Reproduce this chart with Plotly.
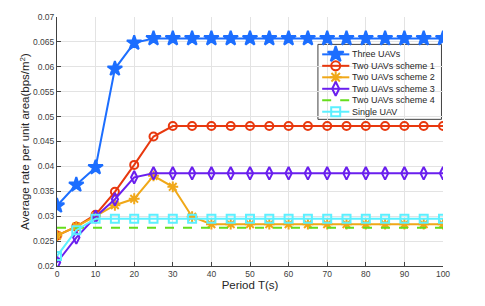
import plotly.graph_objects as go

periods = [0, 5, 10, 15, 20, 25, 30, 35, 40, 45, 50, 55, 60, 65, 70, 75, 80, 85, 90, 95, 100]
three_uavs = [0.0321, 0.0363, 0.0398, 0.0596, 0.0648, 0.0657] + [0.0657] * 15
scheme1 = [0.0261, 0.0279, 0.0303, 0.0349, 0.0403, 0.0460, 0.0481] + [0.0481] * 14
scheme2 = [0.0261, 0.0279, 0.0300, 0.0322, 0.0335, 0.0381, 0.0359, 0.0299, 0.0284] + [0.0284] * 12
scheme3 = [0.0207, 0.0257, 0.0299, 0.0334, 0.0378, 0.0386] + [0.0386] * 15
scheme4 = [0.0277] * 21
single_uav = [0.0220, 0.0272, 0.0295] + [0.0295] * 18

series_names = ["Three UAVs", "Two UAVs scheme 1", "Two UAVs scheme 2",
                "Two UAVs scheme 3", "Two UAVs scheme 4", "Single UAV"]

y_ticks = [0.02, 0.025, 0.03, 0.035, 0.04, 0.045, 0.05, 0.055, 0.06, 0.065, 0.07]
y_ticktext = ["0.02", "0.025", "0.03", "0.035", "0.04", "0.045", "0.05", "0.055", "0.06", "0.065", "0.07"]
x_ticks = [0, 10, 20, 30, 40, 50, 60, 70, 80, 90, 100]

styles = [
    dict(color="#1C6EFF", symbol="star", size=11, dash="solid", mode="lines+markers"),
    dict(color="#E8380E", symbol="circle-open", size=8, dash="solid", mode="lines+markers"),
    dict(color="#F0A818", symbol="asterisk-open", size=9, dash="solid", mode="lines+markers"),
    dict(color="#6A1FEE", symbol="diamond-tall-open", size=9, dash="solid", mode="lines+markers"),
    dict(color="#66DD1C", symbol="circle", size=0, dash="dash", mode="lines"),
    dict(color="#5CF0FF", symbol="square-open", size=8, dash="solid", mode="lines+markers"),
]
series_values = [three_uavs, scheme1, scheme2, scheme3, scheme4, single_uav]

fig = go.Figure()
for name, vals, st in zip(series_names, series_values, styles):
    fig.add_trace(go.Scatter(
        x=periods, y=vals, name=name, mode=st["mode"],
        line=dict(color=st["color"], width=2, dash=st["dash"]),
        marker=dict(symbol=st["symbol"], size=st["size"], color=st["color"], line=dict(width=2, color=st["color"])),
        showlegend=False))

# compact MATLAB-style legend (layout, in plot-area fractions)
LEG_X0, LEG_X1, LEG_Y0, LEG_Y1 = 0.676, 0.996, 0.589, 0.890
ROW_TOP, ROW_STEP = 0.850, 0.0461
SAMPLE_X0, SAMPLE_X1, SAMPLE_XM, TEXT_X = 0.687, 0.7573, 0.722, 0.7590

fig.add_shape(type="rect", xref="paper", yref="paper", x0=LEG_X0, x1=LEG_X1, y0=LEG_Y0, y1=LEG_Y1,
              line=dict(color="#404040", width=1), fillcolor="white", layer="between")
for i, (name, st) in enumerate(zip(series_names, styles)):
    ry = ROW_TOP - i * ROW_STEP
    fig.add_trace(go.Scatter(x=[SAMPLE_X0, SAMPLE_X1], y=[ry, ry], mode="lines", xaxis="x2", yaxis="y2",
                             line=dict(color=st["color"], width=2, dash=st["dash"]), showlegend=False,
                             hoverinfo="skip"))
    if st["mode"] == "lines+markers":
        fig.add_trace(go.Scatter(x=[SAMPLE_XM], y=[ry], mode="markers", xaxis="x2", yaxis="y2",
                                 marker=dict(symbol=st["symbol"], size=st["size"] + 1, color=st["color"],
                                             line=dict(width=2, color=st["color"])),
                                 showlegend=False, hoverinfo="skip"))
    fig.add_annotation(x=TEXT_X, y=ry, xref="paper", yref="paper", text=name, showarrow=False,
                       xanchor="left", yanchor="middle", font=dict(size=9.0, color="#262626"))

axis_common = dict(showgrid=True, gridcolor="#E3E3E3", gridwidth=1, zeroline=False, automargin=False,
                   showline=True, linecolor="#404040", linewidth=1, ticks="inside", ticklen=4,
                   tickcolor="#404040", tickfont=dict(family="Liberation Sans, Arial", size=8.5, color="#404040"))

fig.update_layout(
    width=477, height=298,
    margin=dict(l=49, r=42, t=9, b=40),
    paper_bgcolor="white", plot_bgcolor="white",
    font=dict(family="Liberation Sans, Arial", color="#262626"),
    xaxis=dict(range=[0, 100], tickvals=x_ticks, title=dict(text="Period T(s)", font=dict(size=11.5), standoff=2), **axis_common),
    yaxis=dict(range=[0.02, 0.07], tickvals=y_ticks, ticktext=y_ticktext,
               title=dict(text="Average rate per unit area(bps/m<sup>2</sup>)", font=dict(size=11.5), standoff=0), **axis_common),
    xaxis2=dict(overlaying="x", range=[0, 1], visible=False),
    yaxis2=dict(overlaying="y", range=[0, 1], visible=False),
    showlegend=False,
)

fig.write_html("out.html")
